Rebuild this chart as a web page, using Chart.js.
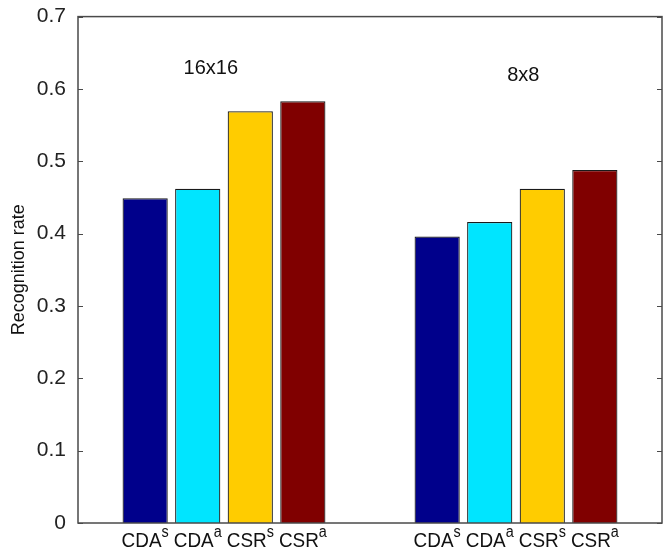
<!DOCTYPE html>
<html>
<head>
<meta charset="utf-8">
<script src="https://cdn.jsdelivr.net/npm/chart.js@4.4.1/dist/chart.umd.min.js"></script>
<style>
  html, body { margin: 0; padding: 0; background: #fff; }
  #wrap { width: 665px; height: 553px; position: relative; }
</style>
</head>
<body>
<div id="wrap"><canvas id="c" width="665" height="553"></canvas></div>
<script>
// ---- data ----
const groups = ['16x16', '8x8'];
const seriesBase = ['CDA', 'CDA', 'CSR', 'CSR'];
const seriesSup = ['s', 'a', 's', 'a'];
const cdaS = [0.449, 0.396];
const cdaA = [0.462, 0.416];
const csrS = [0.569, 0.462];
const csrA = [0.583, 0.488];
const yTicks = [0, 0.1, 0.2, 0.3, 0.4, 0.5, 0.6, 0.7];
const groupNotes = ['16x16', '8x8'];
const noteY = [0.628, 0.618];
const noteOffset = [-0.045, 0.025];

const colors = ['#00008B', '#00E5FF', '#FFCC00', '#800000'];
const seriesValues = [cdaS, cdaA, csrS, csrA];

const FONT = '"Liberation Sans", Arial, Helvetica, sans-serif';

const framePlugin = {
  id: 'frame',
  afterDatasetsDraw(chart) {
    const ctx = chart.ctx;
    const a = chart.chartArea;
    const ys = chart.scales.y;
    ctx.save();
    ctx.strokeStyle = '#4a4a4a';
    ctx.lineWidth = 1.5;
    ctx.strokeRect(a.left, a.top, a.right - a.left, a.bottom - a.top);
    ctx.lineWidth = 1.2;
    yTicks.forEach(v => {
      const py = Math.round(ys.getPixelForValue(v)) + 0.5;
      ctx.beginPath();
      ctx.moveTo(a.left, py); ctx.lineTo(a.left + 5, py);
      ctx.moveTo(a.right, py); ctx.lineTo(a.right - 5, py);
      ctx.stroke();
    });
    // category labels with superscripts under each bar
    ctx.fillStyle = '#111';
    ctx.textBaseline = 'alphabetic';
    const sx = 0.9;
    chart.data.datasets.forEach((ds, di) => {
      const meta = chart.getDatasetMeta(di);
      meta.data.forEach(bar => {
        ctx.font = '21px ' + FONT;
        const wMain = ctx.measureText(seriesBase[di]).width;
        ctx.font = '16px ' + FONT;
        const wSup = ctx.measureText(seriesSup[di]).width;
        const total = (wMain + wSup) * sx;
        const x0 = bar.x - total / 2;
        ctx.save();
        ctx.translate(x0, 0);
        ctx.scale(sx, 1);
        ctx.font = '21px ' + FONT;
        ctx.textAlign = 'left';
        ctx.fillText(seriesBase[di], 0, a.bottom + 24);
        ctx.font = '16px ' + FONT;
        ctx.fillText(seriesSup[di], wMain, a.bottom + 14);
        ctx.restore();
      });
    });
    // group notes
    const xs = chart.scales.x;
    ctx.font = '20px ' + FONT;
    ctx.textAlign = 'center';
    ctx.textBaseline = 'middle';
    groupNotes.forEach((t, i) => {
      const px = xs.getPixelForValue(i) + noteOffset[i] * (xs.getPixelForValue(1) - xs.getPixelForValue(0));
      ctx.fillText(t, px, ys.getPixelForValue(noteY[i]));
    });
    ctx.restore();
  }
};

new Chart(document.getElementById('c'), {
  type: 'bar',
  data: {
    labels: groups,
    datasets: seriesValues.map((vals, i) => ({
      label: seriesBase[i] + seriesSup[i],
      data: vals,
      backgroundColor: colors[i],
      borderColor: '#1a1a1a',
      borderWidth: 1.2,
      categoryPercentage: 0.72,
      barPercentage: 0.86
    }))
  },
  options: {
    responsive: false,
    animation: false,
    devicePixelRatio: 1,
    layout: { padding: { left: 0, right: 3, top: 15, bottom: 0 } },
    plugins: { legend: { display: false }, tooltip: { enabled: false } },
    scales: {
      x: {
        ticks: { display: false },
        grid: { display: false },
        border: { display: false },
        afterFit(s) { s.height = 30; }
      },
      y: {
        min: 0, max: 0.7,
        afterBuildTicks(s) { s.ticks = yTicks.map(v => ({ value: v })); },
        ticks: {
          font: { family: FONT, size: 21 },
          color: '#222',
          padding: 4,
          callback: v => (v === 0 ? '0' : v.toFixed(1))
        },
        grid: { display: false },
        border: { display: false },
        title: {
          display: true,
          text: 'Recognition rate',
          font: { family: FONT, size: 18 },
          color: '#111',
          padding: { top: 8, bottom: 0 }
        },
        afterFit(s) { s.width = 78; }
      }
    }
  },
  plugins: [framePlugin]
});
</script>
</body>
</html>
